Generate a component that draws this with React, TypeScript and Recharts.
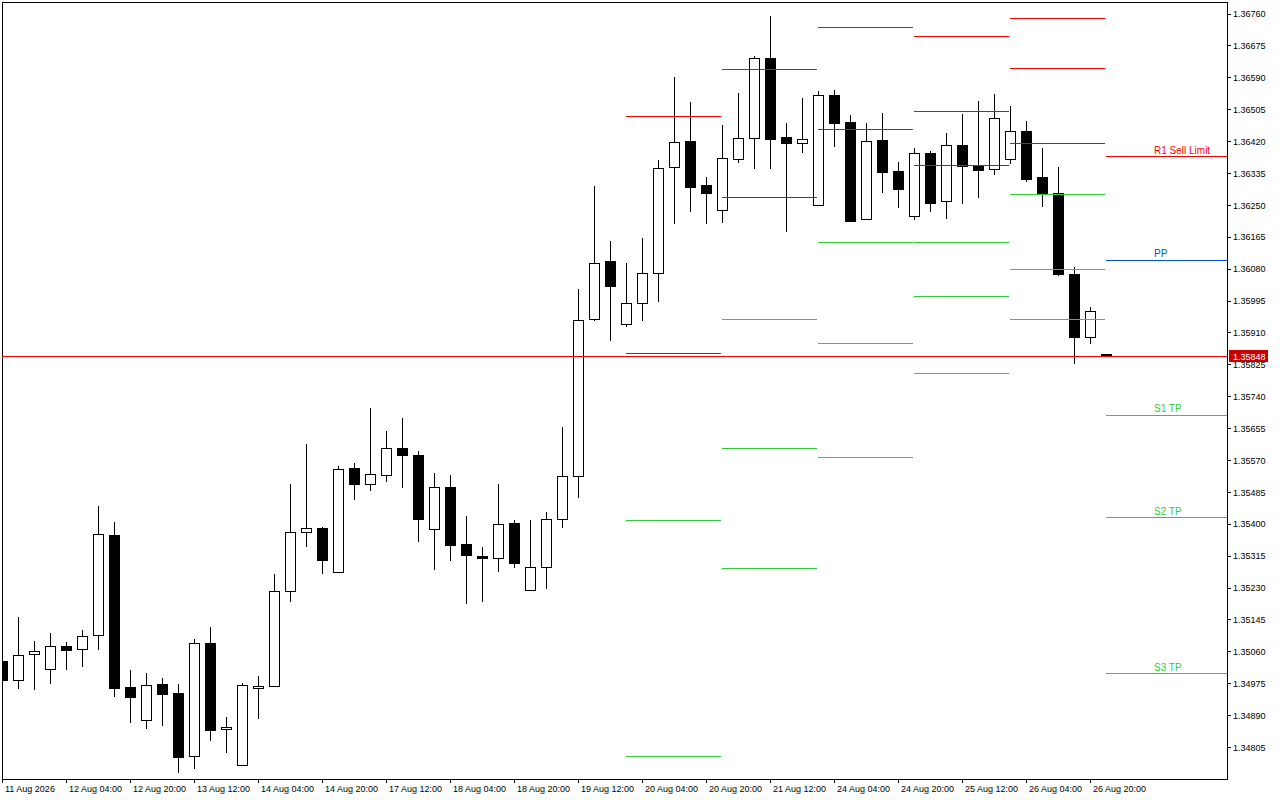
import React from 'react';
import { ComposedChart, Bar, XAxis, YAxis, ReferenceLine, ReferenceArea } from 'recharts';

// 4H candles, 11 Aug 12:00 -> 27 Aug 00:00
const timeLabels = [
  '11 Aug 2026', '12 Aug 04:00', '12 Aug 20:00', '13 Aug 12:00', '14 Aug 04:00', '14 Aug 20:00',
  '17 Aug 12:00', '18 Aug 04:00', '18 Aug 20:00', '19 Aug 12:00', '20 Aug 04:00', '20 Aug 20:00',
  '21 Aug 12:00', '24 Aug 04:00', '24 Aug 20:00', '25 Aug 12:00', '26 Aug 04:00', '26 Aug 20:00',
];

const priceTicks = [
  1.34805, 1.3489, 1.34975, 1.3506, 1.35145, 1.3523, 1.35315, 1.354, 1.35485, 1.3557, 1.35655, 1.3574,
  1.35825, 1.3591, 1.35995, 1.3608, 1.36165, 1.3625, 1.36335, 1.3642, 1.36505, 1.3659, 1.36675, 1.3676,
];

const opens = [
  1.35036, 1.34985, 1.35054, 1.35014, 1.35076, 1.35068, 1.35105, 1.35372, 1.34967, 1.34879,
  1.34974, 1.3495, 1.34783, 1.35084, 1.34855, 1.34759, 1.34967, 1.34969, 1.35222, 1.3538,
  1.3539, 1.35273, 1.3555, 1.35507, 1.35531, 1.35603, 1.35585, 1.35388, 1.355, 1.35348,
  1.35316, 1.3531, 1.35403, 1.35225, 1.35286, 1.35414, 1.35529, 1.35947, 1.36102, 1.35934,
  1.3599, 1.3607, 1.36352, 1.36422, 1.36304, 1.36238, 1.36374, 1.3643, 1.36643, 1.36432,
  1.36416, 1.36251, 1.36544, 1.36472, 1.36214, 1.36424, 1.36342, 1.36222, 1.3639, 1.36262,
  1.36411, 1.36355, 1.36347, 1.36374, 1.36448, 1.36326, 1.36283, 1.36067, 1.35899, 1.35854,
];
const highs = [
  1.35041, 1.35153, 1.35089, 1.3511, 1.35086, 1.35118, 1.35449, 1.35406, 1.35012, 1.35004,
  1.3499, 1.34974, 1.35094, 1.35126, 1.34886, 1.34977, 1.34996, 1.35268, 1.35507, 1.35614,
  1.35392, 1.35555, 1.35563, 1.3571, 1.35649, 1.35683, 1.35595, 1.35537, 1.35531, 1.35422,
  1.3534, 1.35507, 1.35412, 1.35412, 1.35433, 1.35659, 1.36027, 1.36302, 1.36155, 1.36096,
  1.36163, 1.36371, 1.36592, 1.36525, 1.36326, 1.36464, 1.3655, 1.36648, 1.36755, 1.3647,
  1.36536, 1.36555, 1.36558, 1.36491, 1.3647, 1.36496, 1.36366, 1.36403, 1.36395, 1.36443,
  1.36494, 1.36528, 1.36547, 1.36515, 1.36475, 1.36403, 1.36352, 1.36086, 1.35979, 1.35855,
];
const lows = [
  1.3498, 1.34961, 1.34958, 1.34974, 1.35012, 1.3502, 1.35065, 1.3494, 1.34871, 1.34855,
  1.34862, 1.34737, 1.34748, 1.34822, 1.34791, 1.34757, 1.34881, 1.34967, 1.35193, 1.3534,
  1.35268, 1.35271, 1.35465, 1.35489, 1.35513, 1.35497, 1.35353, 1.35278, 1.35302, 1.35188,
  1.35193, 1.35273, 1.35284, 1.35223, 1.35228, 1.3539, 1.3547, 1.35942, 1.35889, 1.35926,
  1.35942, 1.35992, 1.362, 1.36232, 1.362, 1.36203, 1.36363, 1.36347, 1.36347, 1.36179,
  1.3639, 1.36249, 1.36406, 1.36206, 1.36212, 1.36283, 1.36243, 1.36211, 1.36232, 1.36214,
  1.36254, 1.3627, 1.36331, 1.3636, 1.36312, 1.36246, 1.36062, 1.35827, 1.35881, 1.35846,
];
const closes = [
  1.34985, 1.35052, 1.35062, 1.35076, 1.35065, 1.35102, 1.35374, 1.34964, 1.3494, 1.34972,
  1.34948, 1.3478, 1.35084, 1.34852, 1.3486, 1.34972, 1.34969, 1.35222, 1.3538, 1.3539,
  1.35305, 1.35547, 1.35507, 1.35534, 1.35603, 1.35585, 1.35414, 1.355, 1.35345, 1.35318,
  1.3531, 1.35401, 1.35297, 1.35286, 1.35414, 1.35529, 1.35945, 1.36096, 1.36035, 1.3599,
  1.3607, 1.3635, 1.36419, 1.36299, 1.36283, 1.36376, 1.3643, 1.36643, 1.36427, 1.36416,
  1.36427, 1.36544, 1.3647, 1.36208, 1.36422, 1.36339, 1.36294, 1.3639, 1.36256, 1.36411,
  1.36355, 1.36344, 1.36483, 1.36448, 1.3632, 1.36283, 1.36067, 1.35899, 1.35969, 1.35848,
];

// daily pivot levels (first candle index of each day)
const dayStarts = [39, 45, 51, 57, 63, 69];
const r2Levels = [null, null, null, 1.36701, 1.36747, null];
const r1Levels = [1.36486, 1.36611, 1.36725, 1.36499, 1.36616, 1.36379];
const ppLevels = [1.35854, 1.3627, 1.36453, 1.36355, 1.36414, 1.36104];
const s1Levels = [1.35409, 1.35945, 1.36152, 1.3615, 1.3628, 1.35691];
const s2Levels = [1.3478, 1.35603, 1.35881, 1.36006, 1.3608, 1.35417];
const s3Levels = [null, 1.35281, 1.35579, 1.35803, 1.35947, 1.35001];

const lastPrice = 1.35848;

const RED = '#ff0000';
const BLUE = '#0050e0';
const GREEN = '#32cd32';
const FONT = '"Liberation Sans", Arial, sans-serif';

const xMax = 76.5625;
const yMin = 1.34721;
const yMax = 1.36792;

const candles = opens.map((o, i) => ({ i, open: o, high: highs[i], low: lows[i], close: closes[i] }));

const levelSets = [
  { values: r2Levels, color: RED, label: '' },
  { values: r1Levels, color: RED, label: 'R1 Sell Limit' },
  { values: ppLevels, color: BLUE, label: 'PP' },
  { values: s1Levels, color: GREEN, label: 'S1 TP' },
  { values: s2Levels, color: GREEN, label: 'S2 TP' },
  { values: s3Levels, color: GREEN, label: 'S3 TP' },
];

const Candle = (props: any) => {
  const { x, y, width, height, payload } = props;
  if (!payload || x == null) return null;
  const top = Math.min(y, y + height);
  const h = Math.abs(height);
  const { open, close, high, low } = payload;
  const k = h / (high - low || 1);
  const py = (v: number) => top + (high - v) * k;
  const cx = Math.round(x + width / 2) + 0.5;
  const bodyTop = Math.round(py(Math.max(open, close)));
  const bodyBot = Math.max(Math.round(py(Math.min(open, close))), bodyTop + 2);
  const up = close >= open;
  return (
    <g>
      <line x1={cx} x2={cx} y1={Math.round(py(high))} y2={Math.round(py(low))} stroke="#000" />
      <rect x={cx - 5} y={bodyTop + 0.5} width={10} height={bodyBot - bodyTop} fill={up ? '#fff' : '#000'} stroke="#000" />
    </g>
  );
};

const TimeTick = ({ x, y, payload }: any) => (
  <text x={x + 3} y={y + 7} fill="#000" fontSize={9} fontFamily={FONT} textAnchor="start">
    {timeLabels[payload.value / 4]}
  </text>
);

const LevelLabel = ({ viewBox, text, color }: any) =>
  viewBox && text ? (
    <text x={viewBox.x + 48} y={viewBox.y - 3} fill={color} fontSize={10} fontFamily={FONT}>
      {text}
    </text>
  ) : null;

const PriceTag = ({ viewBox }: any) => {
  if (!viewBox) return null;
  const x = viewBox.x + viewBox.width + 2;
  const y = viewBox.y;
  return (
    <g>
      <rect x={x} y={y - 6} width={39} height={12} fill="#c80000" />
      <text x={x + 4} y={y + 3.5} fill="#fff" fontSize={9} fontFamily={FONT}>
        {lastPrice.toFixed(5)}
      </text>
    </g>
  );
};

export default function App() {
  return (
    <div style={{ position: 'absolute', left: 0, top: 0, width: 1280, height: 800, background: '#fff', fontFamily: FONT, shapeRendering: 'crispEdges' }}>
      <ComposedChart width={1280} height={800} data={candles} margin={{ top: 2, right: 0, bottom: 0, left: 2 }}>
        <ReferenceArea x1={0} x2={xMax} y1={yMin} y2={yMax} fill="none" fillOpacity={0} stroke="#000" strokeOpacity={1} />
        <XAxis
          dataKey="i"
          type="number"
          domain={[0, xMax]}
          allowDataOverflow
          ticks={timeLabels.map((_, k) => k * 4)}
          interval={0}
          height={21}
          tickSize={4}
          tickMargin={2}
          axisLine={{ stroke: '#000' }}
          tickLine={{ stroke: '#000' }}
          tick={<TimeTick />}
        />
        <YAxis
          orientation="right"
          type="number"
          domain={[yMin, yMax]}
          allowDataOverflow
          ticks={priceTicks}
          interval={0}
          width={53}
          tickSize={4}
          tickMargin={2}
          axisLine={{ stroke: '#000' }}
          tickLine={{ stroke: '#000' }}
          tick={{ fill: '#000', fontSize: 9, fontFamily: FONT }}
          tickFormatter={(v: number) => v.toFixed(5)}
        />
        <Bar
          dataKey={(d: any) => [d.low, d.high]}
          barSize={11}
          shape={(p: any) => <Candle {...p} />}
          isAnimationActive={false}
        />
        {dayStarts.map((s, k) => {
          const last = k === dayStarts.length - 1;
          const end = last ? xMax : s + 5.94;
          return levelSets.map((set, j) => {
            const v = set.values[k];
            if (v == null) return null;
            return (
              <ReferenceLine
                key={`${k}-${j}`}
                segment={[{ x: s, y: v }, { x: end, y: v }]}
                stroke={set.color}
                strokeWidth={1}
                label={last ? <LevelLabel text={set.label} color={set.color} /> : undefined}
              />
            );
          });
        })}
        <ReferenceLine y={lastPrice} stroke={RED} strokeWidth={1} label={<PriceTag />} />
      </ComposedChart>
    </div>
  );
}
